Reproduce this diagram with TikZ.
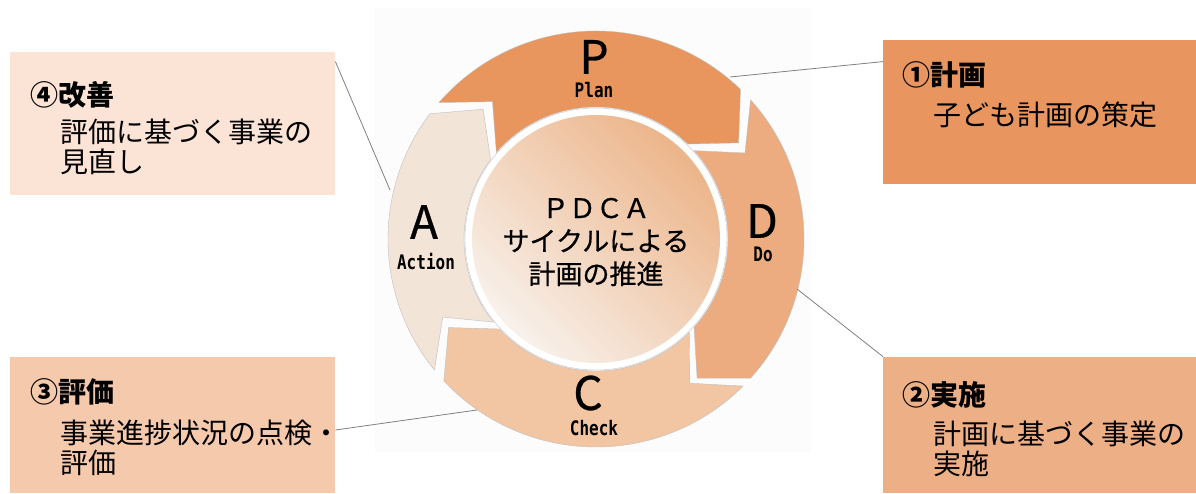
\documentclass[tikz,border=0pt]{standalone}
\usepackage{fontspec}
\setmainfont{Noto Sans CJK JP}
\newfontfamily\heavyfont[FakeBold=0.6]{Noto Sans CJK JP}
\newfontfamily\phasefont[FakeStretch=0.8]{DejaVu Sans Mono}
\definecolor{plancol}{HTML}{E8955E}
\definecolor{docol}{HTML}{EDAC80}
\definecolor{checkcol}{HTML}{F3C6A3}
\definecolor{actcol}{HTML}{F2E4D6}
\definecolor{planbox}{HTML}{E8955F}
\definecolor{dobox}{HTML}{EDAF86}
\definecolor{checkbox}{HTML}{F5C9AB}
\definecolor{actbox}{HTML}{FBE3D6}
\definecolor{diskdark}{HTML}{ECB58A}
\definecolor{disklight}{HTML}{F8F1EB}
\tikzset{
  infobox/.style={anchor=south west, inner sep=0pt, minimum width=325pt},
  headline/.style={anchor=west, inner sep=0pt, font=\bfseries\fontsize{28}{28}\selectfont},
  bodytext/.style={anchor=west, inner sep=0pt, align=left, font=\fontsize{28}{30}\selectfont},
  bigletter/.style={inner sep=0pt, font=\heavyfont\fontsize{46}{46}\selectfont},
  phase/.style={inner sep=0pt, font=\phasefont\bfseries\fontsize{20}{20}\selectfont},
  leader/.style={draw=black!50, line width=0.8pt}
}
\begin{document}
\begin{tikzpicture}[x=1pt,y=1pt]
\useasboundingbox (0,0) rectangle (1196,493);
% faint backdrop behind the cycle
\fill[black!1] (375,41) rectangle (811,485);
% text boxes
\node[infobox, fill=actbox, minimum height=143pt] (boxact) at (10,298) {};
\node[infobox, fill=planbox, minimum width=313pt, minimum height=144pt] (boxplan) at (883,309) {};
\node[infobox, fill=checkbox, minimum height=136pt] (boxcheck) at (10,0) {};
\node[infobox, fill=dobox, minimum width=313pt, minimum height=136pt] (boxdo) at (883,0) {};
\node[headline] (t4) at (30,398) {④改善};
\node[bodytext] (s4) at (60,346) {評価に基づく事業の\\見直し};
\node[headline] (t1) at (902,418) {①計画};
\node[bodytext] (s1) at (933,378) {子ども計画の策定};
\node[headline] (t3) at (30,101) {③評価};
\node[bodytext] (s3) at (60,45) {事業進捗状況の点検・\\評価};
\node[headline] (t2) at (902,98) {②実施};
\node[bodytext] (s2) at (933,44) {計画に基づく事業の\\実施};
% cycle arrows
\begin{scope}[shift={(596,254)}]
\foreach \col/\a/\b in {plancol/139/46, docol/42/-42, checkcol/-45/-137, actcol/219/143}
  \filldraw[fill=\col, draw=black!25, line width=0.4pt]
    (\a:208) arc[start angle=\a, end angle=\b, radius=208] -- (\b-12:172) -- (\b:132)
    arc[start angle=\b, end angle=\a, radius=132] -- (\a-12:172) -- cycle;
% centre disk
\filldraw[fill=white, draw=black!20, line width=0.5pt] (0,0) circle (131);
\shade[top color=diskdark, bottom color=disklight, shading angle=-45] (0,0) circle (124);
\end{scope}
\node[align=center, inner sep=0pt, font=\heavyfont\fontsize{27}{33}\selectfont] (hub) at (596,251) {ＰＤＣＡ\\サイクルによる\\計画の推進};
% phase letters
\node[bigletter] (P) at (594,436) {P};
\node[phase] (plan) at (594,403) {Plan};
\node[bigletter] (D) at (762,272) {D};
\node[phase] (do) at (763,239) {Do};
\node[bigletter] (C) at (588,100) {C};
\node[phase] (check) at (594,65) {Check};
\node[bigletter] (A) at (424,271) {A};
\node[phase] (action) at (426,231) {Action};
% leader lines
\coordinate (onplan) at (730,416);
\coordinate (ondo) at (797,204);
\coordinate (oncheck) at (477,83);
\coordinate (onact) at (390,303);
\draw[leader] ([yshift=-22pt]boxplan.north west) -- (onplan);
\draw[leader] (boxdo.north west) -- (ondo);
\draw[leader] ([yshift=63pt]boxcheck.south east) -- (oncheck);
\draw[leader] ([yshift=-10pt]boxact.north east) -- (onact);
\end{tikzpicture}
\end{document}
